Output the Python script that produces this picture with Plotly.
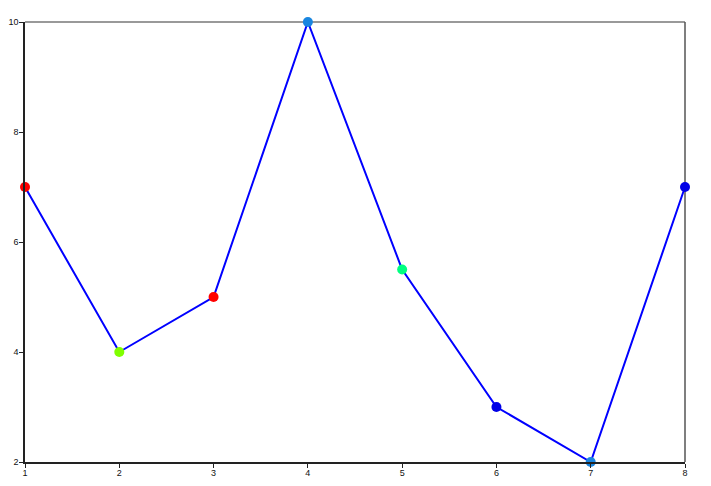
import plotly.graph_objects as go

x_values = [1, 2, 3, 4, 5, 6, 7, 8]
y_values = [7, 4, 5, 10, 5.5, 3, 2, 7]
marker_colors = ["#ff0000", "#80ff00", "#ff0000", "#1a86e0", "#00ff80", "#0000e6", "#1a86e0", "#0000e6"]

fig = go.Figure()
fig.add_trace(go.Scatter(
    x=x_values, y=y_values, mode="lines+markers",
    line=dict(color="#0000ff", width=2),
    marker=dict(color=marker_colors, size=10),
    cliponaxis=False,
))

axis_common = dict(
    showgrid=False, zeroline=False, automargin=False,
    showline=True, linecolor="#222222", linewidth=1.5,
    ticks="outside", ticklen=4, tickcolor="#222222",
    tickfont=dict(family="Liberation Sans Narrow, Liberation Sans, Arial", size=9, color="#111111"),
    mirror=False,
)
fig.update_layout(
    width=695, height=478,
    margin=dict(l=17, r=18, t=14, b=24),
    paper_bgcolor="white", plot_bgcolor="white",
    showlegend=False,
    xaxis=dict(range=[1, 8], tickvals=[1, 2, 3, 4, 5, 6, 7, 8], ticklabelstandoff=-3, **axis_common),
    yaxis=dict(range=[2, 10], tickvals=[2, 4, 6, 8, 10], ticklabelstandoff=-1, **axis_common),
)
fig.add_shape(type="line", xref="paper", yref="paper", x0=0, x1=1, y0=1, y1=1,
              line=dict(color="#777777", width=1.5), layer="below")
fig.add_shape(type="line", xref="paper", yref="paper", x0=1, x1=1, y0=0, y1=1,
              line=dict(color="#555555", width=1.5), layer="below")
fig.write_html("out.html")
